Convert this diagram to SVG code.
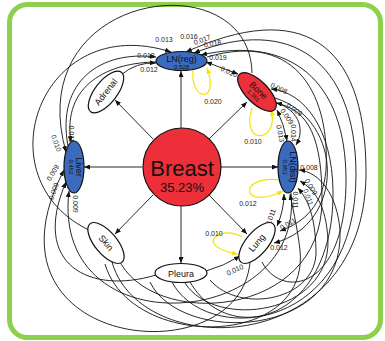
<svg xmlns="http://www.w3.org/2000/svg" width="385" height="341" viewBox="0 0 385 341">
<style>
.e{fill:none;stroke:#111;stroke-width:0.9;marker-end:url(#ah)}
.d{fill:none;stroke:#111;stroke-width:0.9;marker-end:url(#ah);marker-start:url(#ah)}
.y{fill:none;stroke:#f3e400;stroke-width:1.2;marker-end:url(#ay)}
.lb{font-family:"Liberation Sans",Arial,sans-serif;font-size:7px;fill:#222;text-anchor:middle}
.nt{font-family:"Liberation Sans",Arial,sans-serif;font-size:9px;fill:#111;text-anchor:middle}
.ns{font-family:"Liberation Sans",Arial,sans-serif;font-size:6px;fill:#111;text-anchor:middle}
.w{fill:#fff;stroke:#111;stroke-width:1.2}
.b{fill:#3a6bbf;stroke:#111;stroke-width:1.2}
.r{fill:#ec2f38;stroke:#111;stroke-width:1.2}
</style>
<defs>
<marker id="ah" viewBox="0 0 6 5" markerWidth="6" markerHeight="5" refX="6" refY="2.5" orient="auto-start-reverse" markerUnits="userSpaceOnUse"><path d="M0,0 L6,2.5 L0,5 z" fill="#111"/></marker>
<marker id="ay" viewBox="0 0 6 5" markerWidth="6" markerHeight="5" refX="6" refY="2.5" orient="auto" markerUnits="userSpaceOnUse"><path d="M0,0 L6,2.5 L0,5 z" fill="#f3e400"/></marker>
</defs>
<rect x="0" y="0" width="385" height="341" fill="#fff"/>
<rect x="9.5" y="4.5" width="371" height="333" rx="18" fill="#fff" stroke="#8dd04f" stroke-width="5"/>
<g id="connectors">
<path class="e" d="M181,128 L181,71"/>
<path class="e" d="M209,139 L247,102"/>
<path class="e" d="M220,167 L278,167"/>
<path class="e" d="M209,195 L247,234"/>
<path class="e" d="M181,206 L181,263"/>
<path class="e" d="M153,195 L115,234"/>
<path class="e" d="M142,167 L84,167"/>
<path class="e" d="M153,139 L115,100"/>
<path class="e" d="M121,75 Q136,62 156,63"/>
<path class="e" d="M68,146 C56,82 100,50 156,57"/>
<path class="e" d="M158,62 C108,62 62,85 71,142"/>
<path class="e" d="M91,231 C-20,180 40,10 171,52"/>
<path class="e" d="M112,262 C140,362 368,360 366,170 C365,40 300,0 186,52"/>
<path class="e" d="M172,282 C205,345 356,335 356,175 C356,60 290,15 194,53"/>
<path class="e" d="M262,262 C282,300 346,290 346,180 C346,80 290,35 201,55"/>
<path class="d" d="M206,62 L238,74"/>
<path class="e" d="M252,73 C250,-40 20,-10 66,152"/>
<path class="e" d="M190,282 C230,350 335,320 333,190 C332,130 305,92 271,89"/>
<path class="e" d="M118,258 C150,330 322,320 322,200 C322,140 310,110 276,103"/>
<path class="d" d="M277,110 Q284,124 287,141"/>
<path class="e" d="M271,101 C298,108 306,128 296,145"/>
<path class="e" d="M150,282 C180,345 345,340 340,230 C337,195 320,172 299,170"/>
<path class="e" d="M185,283 C215,330 330,315 328,240 C326,205 315,190 300,181"/>
<path class="e" d="M210,280 C240,315 318,300 316,250 C315,215 308,200 298,188"/>
<path class="e" d="M105,264 C130,350 310,350 300,250 C297,225 292,205 290,194"/>
<path class="d" d="M277,226 Q284,210 284,194"/>
<path class="e" d="M207,57 C300,30 330,100 326,170 C323,205 305,222 280,231"/>
<path class="e" d="M275,98 C345,120 345,225 274,243"/>
<path class="e" d="M206,271 Q224,266 240,256"/>
<path class="e" d="M250,262 C240,378 -30,350 64,170"/>
<path class="e" d="M156,275 C90,295 30,265 66,182"/>
<path class="e" d="M291,193 C305,330 50,350 69,191"/>
<path class="y" d="M193,70 C190,102 220,104 207,68"/>
<path class="y" d="M252,108 C240,147 280,142 271,110"/>
<path class="y" d="M280,180 C238,174 240,212 283,191"/>
<path class="y" d="M242,237 C220,224 192,246 238,254"/>
</g>
<g id="edge-labels">
<text class="lb" x="164" y="41.5">0.013</text>
<text class="lb" x="189" y="38.5">0.016</text>
<text class="lb" transform="translate(203,42) rotate(-20)">0.017</text>
<text class="lb" transform="translate(213,46) rotate(-10)">0.018</text>
<text class="lb" x="146" y="57.5">0.012</text>
<text class="lb" x="149" y="71.5">0.012</text>
<text class="lb" x="218" y="59.5">0.019</text>
<text class="lb" transform="translate(228,74) rotate(25)">0.010</text>
<text class="lb" x="213" y="103.5">0.020</text>
<text class="lb" transform="translate(278,90.5) rotate(25)">0.008</text>
<text class="lb" transform="translate(293,111.5) rotate(35)">0.009</text>
<text class="lb" transform="translate(285,118) rotate(55)">0.009</text>
<text class="lb" transform="translate(278,134) rotate(78)">0.013</text>
<text class="lb" transform="translate(290.5,133) rotate(90)">0.014</text>
<text class="lb" x="253" y="143.5">0.010</text>
<text class="lb" x="309" y="169.5">0.008</text>
<text class="lb" transform="translate(309,188) rotate(60)">0.009</text>
<text class="lb" transform="translate(306,198) rotate(70)">0.011</text>
<text class="lb" transform="translate(292.5,200) rotate(90)">0.011</text>
<text class="lb" x="248" y="205.5">0.012</text>
<text class="lb" transform="translate(273,218) rotate(-70)">0.011</text>
<text class="lb" transform="translate(289,226) rotate(-30)">0.011</text>
<text class="lb" x="279" y="249.5">0.012</text>
<text class="lb" transform="translate(236,272) rotate(-25)">0.010</text>
<text class="lb" x="214" y="235.5">0.010</text>
<text class="lb" transform="translate(68.5,134) rotate(90)">0.011</text>
<text class="lb" transform="translate(54,144) rotate(70)">0.010</text>
<text class="lb" transform="translate(55,174) rotate(-60)">0.009</text>
<text class="lb" transform="translate(56,192) rotate(-70)">0.009</text>
<text class="lb" transform="translate(73,204) rotate(90)">0.009</text>
</g>
<g id="node-breast">
<circle class="r" cx="182" cy="167" r="39"/>
<text x="182" y="176" font-family="Liberation Sans, Arial, sans-serif" font-size="22" fill="#111" text-anchor="middle">Breast</text>
<text x="182" y="192" font-family="Liberation Sans, Arial, sans-serif" font-size="13" fill="#111" text-anchor="middle">35.23%</text>
</g>
<g id="node-lnreg">
<ellipse class="b" cx="181.5" cy="61" rx="25.5" ry="9.5"/>
<text class="nt" x="181.5" y="62">LN(reg)</text>
<text class="ns" x="181.5" y="68.5">0.528</text>
</g>
<g id="node-bone">
<ellipse class="r" cx="257" cy="92" rx="25" ry="11" transform="rotate(45 257 92)"/>
<g transform="translate(257,92) rotate(45)">
<text class="nt" x="0" y="1">Bone</text>
<text class="ns" x="0" y="7">1.361</text>
</g>
</g>
<g id="node-lndist">
<ellipse class="b" cx="288" cy="167" rx="10" ry="26"/>
<g transform="translate(288,167) rotate(90)">
<text class="nt" x="0" y="-1.5">LN(dist)</text>
<text class="ns" x="0" y="5">0.953</text>
</g>
</g>
<g id="node-lung">
<ellipse class="w" cx="257" cy="243" rx="25" ry="11" transform="rotate(-50 257 243)"/>
<text class="nt" transform="translate(257,243) rotate(-50)" y="3">Lung</text>
</g>
<g id="node-pleura">
<ellipse class="w" cx="181" cy="273" rx="26" ry="9.5"/>
<text class="nt" x="181" y="276.5">Pleura</text>
</g>
<g id="node-skin">
<ellipse class="w" cx="106" cy="243" rx="25" ry="11" transform="rotate(50 106 243)"/>
<text class="nt" transform="translate(106,243) rotate(50)" y="3">Skin</text>
</g>
<g id="node-liver">
<ellipse class="b" cx="74" cy="167" rx="10" ry="26"/>
<g transform="translate(74,167) rotate(90)">
<text class="nt" x="0" y="-1.5">Liver</text>
<text class="ns" x="0" y="5">0.452</text>
</g>
</g>
<g id="node-adrenal">
<ellipse class="w" cx="106" cy="92" rx="25" ry="11" transform="rotate(-52 106 92)"/>
<text class="nt" transform="translate(106,92) rotate(-52)" y="3">Adrenal</text>
</g>
</svg>
